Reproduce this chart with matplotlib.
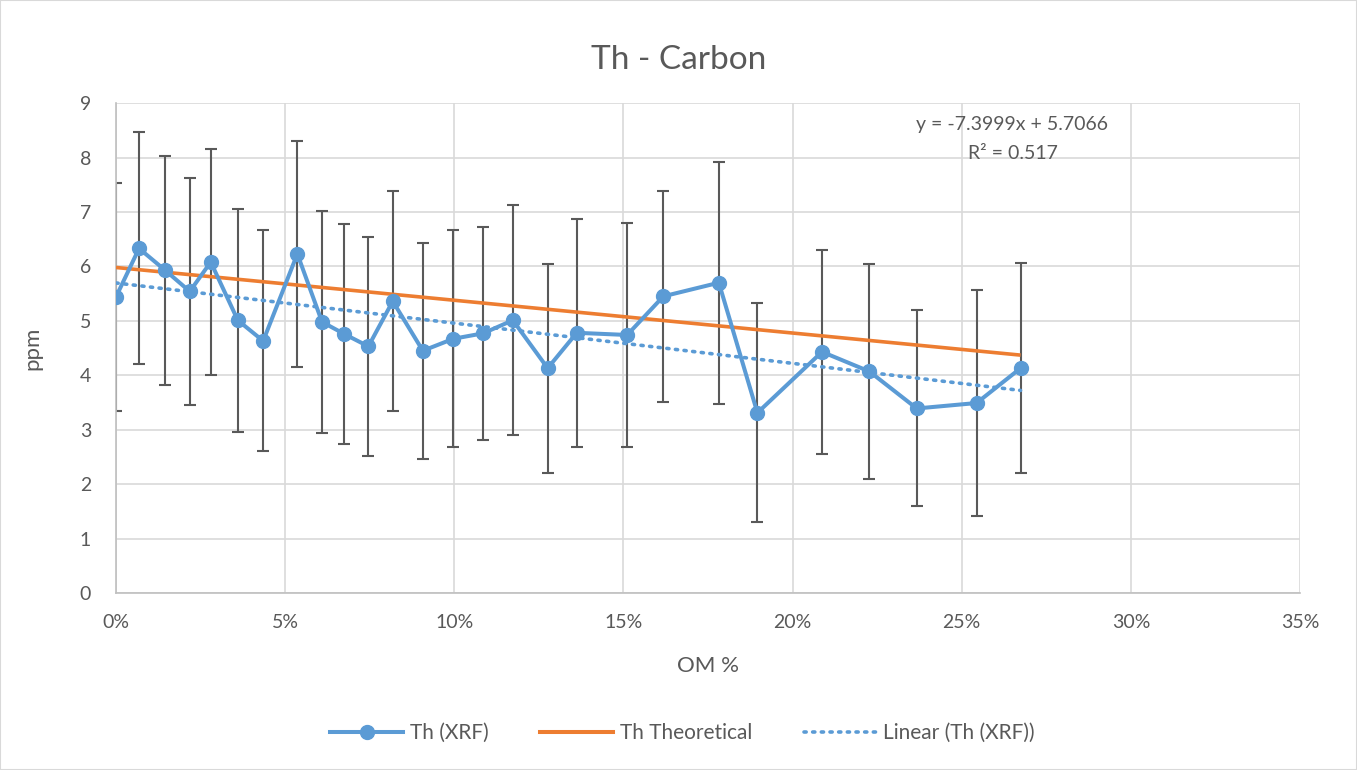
import numpy as np
import matplotlib
matplotlib.use("Agg")
import matplotlib.pyplot as plt
from matplotlib.ticker import PercentFormatter
from matplotlib.lines import Line2D

# Datos
om = [0.0, 0.0068, 0.0145, 0.0218, 0.0280, 0.0360, 0.0435, 0.0536, 0.0609,
      0.0674, 0.0746, 0.0818, 0.0907, 0.0997, 0.1085, 0.1173, 0.1276, 0.1362,
      0.1511, 0.1618, 0.1782, 0.1896, 0.2087, 0.2227, 0.2367, 0.2544, 0.2674]
th_xrf = [5.44, 6.33, 5.93, 5.54, 6.08, 5.01, 4.63, 6.23, 4.98, 4.76, 4.53,
          5.36, 4.45, 4.67, 4.77, 5.01, 4.13, 4.78, 4.74, 5.45, 5.70, 3.31,
          4.43, 4.07, 3.39, 3.49, 4.13]
th_err = [2.10, 2.13, 2.10, 2.08, 2.08, 2.05, 2.03, 2.08, 2.04, 2.02, 2.01,
          2.02, 1.98, 1.99, 1.96, 2.11, 1.92, 2.09, 2.06, 1.94, 2.22, 2.01,
          1.88, 1.98, 1.80, 2.07, 1.93]
theo_x = [0.0, 0.2674]
theo_y = [5.98, 4.37]
eq_text = "y = -7.3999x + 5.7066"
r2_text = "R² = 0.517"

blue = "#5B9BD5"
orange = "#ED7D31"
grey_txt = "#595959"
grid_c = "#D9D9D9"

plt.rcParams["font.family"] = ["Lato", "DejaVu Sans"]

fig = plt.figure(figsize=(13.57, 7.7), dpi=100)
ax = fig.add_axes([0.0855, 0.2299, 0.8725, 0.6362])

# trendline from the data
coef = np.polyfit(om, th_xrf, 1)
tx = np.array([om[0], om[-1]])

ax.errorbar(om, th_xrf, yerr=th_err, fmt="none", ecolor="#595959",
            elinewidth=1.5, capsize=4.5, capthick=1.5, zorder=2)
ax.plot(theo_x, theo_y, color=orange, lw=2.6, solid_capstyle="butt", zorder=3)
ax.plot(tx, np.polyval(coef, tx), color=blue, lw=2.6, ls=(0, (0.6, 1.8)),
        dash_capstyle="round", zorder=3)
ax.plot(om, th_xrf, color=blue, lw=2.9, marker="o", ms=10, zorder=4)

ax.set_xlim(0, 0.35)
ax.set_ylim(0, 9)
ax.set_xticks(np.arange(0, 0.351, 0.05))
ax.set_yticks(range(0, 10))
ax.xaxis.set_major_formatter(PercentFormatter(1.0, decimals=0))
ax.grid(True, color=grid_c, lw=1.2)
ax.set_axisbelow(True)
for s in ["top", "right"]:
    ax.spines[s].set_visible(False)
for s in ["left", "bottom"]:
    ax.spines[s].set_color("#BFBFBF")
    ax.spines[s].set_linewidth(1.2)
ax.tick_params(length=0, labelsize=14, colors=grey_txt)
ax.tick_params(axis="x", pad=15)
ax.tick_params(axis="y", pad=18)

ax.set_xlabel("OM %", fontsize=16, color=grey_txt)
ax.set_ylabel("ppm", fontsize=16, color=grey_txt)
ax.xaxis.set_label_coords(0.5, -0.128)
ax.yaxis.set_label_coords(-0.062, 0.5)
fig.suptitle("Th - Carbon", y=0.922, va="center", fontsize=24, color=grey_txt)

ax.text(0.265, 8.6, eq_text, ha="center", va="center", fontsize=14, color=grey_txt)
ax.text(0.265, 8.08, r2_text, ha="center", va="center", fontsize=14, color=grey_txt)

handles = [
    Line2D([], [], color=blue, lw=2.9, marker="o", ms=10),
    Line2D([], [], color=orange, lw=2.9),
    Line2D([], [], color=blue, lw=2.6, ls=(0, (0.6, 1.8)), dash_capstyle="round"),
]
fig.legend(handles, ["Th (XRF)", "Th Theoretical", "Linear (Th (XRF))"],
           loc="center", bbox_to_anchor=(0.503, 0.048), ncol=3, frameon=False,
           fontsize=15, handlelength=3.5, handletextpad=0.3, columnspacing=2.5,
           labelcolor=grey_txt)

fig.patches.append(plt.Rectangle((0, 0), 1, 1, transform=fig.transFigure,
                                 fill=False, edgecolor=grid_c, lw=1.5))

fig.savefig("out.png", dpi=100)
